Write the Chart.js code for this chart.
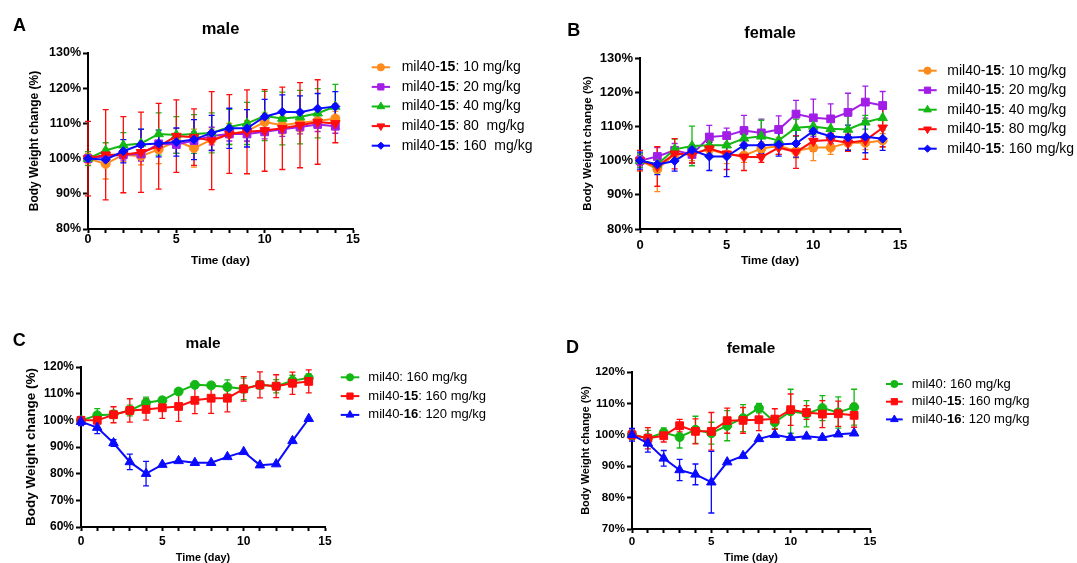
<!DOCTYPE html>
<html>
<head>
<meta charset="utf-8">
<script src="https://cdn.jsdelivr.net/npm/chart.js@4.4.0/dist/chart.umd.min.js"></script>
<style>
  body { margin: 0; background: #fff; width: 1077px; height: 563px; overflow: hidden; position: relative; }
  canvas { position: absolute; }
</style>
</head>
<body>
<canvas id="chartA" width="560" height="280" style="left:0;top:0"></canvas>
<canvas id="chartB" width="517" height="280" style="left:560px;top:0"></canvas>
<canvas id="chartC" width="560" height="280" style="left:0;top:300px"></canvas>
<canvas id="chartD" width="517" height="280" style="left:560px;top:300px"></canvas>
<script>
// days of the study (x axis)
const days = [0, 1, 2, 3, 4, 5, 6, 7, 8, 9, 10, 11, 12, 13, 14];

// A - male, mil40-15 dose range
const labelsA = ['mil40-15: 10 mg/kg', 'mil40-15: 20 mg/kg', 'mil40-15: 40 mg/kg', 'mil40-15: 80  mg/kg', 'mil40-15: 160  mg/kg'];
const a10 = [100, 98.5, 101.1, 100.7, 102.6, 105, 103, 105.4, 107, 107.8, 110.4, 109.5, 110.2, 110.7, 111.4];
const a10Err = [1.5, 4.3, 2, 2.5, 4, 3.5, 5.4, 3, 3, 3, 2.5, 2.5, 2.5, 2, 2];
const a20 = [100, 100.7, 101.1, 101.3, 104.2, 104, 105.1, 106.4, 107, 107, 107.6, 108.3, 109, 109.7, 109.2];
const a20Err = [1, 1.5, 1.5, 2, 2.5, 2.5, 2.5, 2.5, 2, 2, 2, 2, 2, 2, 2];
const a40 = [100, 102.3, 103.8, 104.3, 107, 106.7, 107, 107.3, 109, 110, 112.1, 111.4, 111.8, 112.9, 114.8];
const a40Err = [2, 2.2, 3.6, 4, 6, 5.2, 5.5, 5.7, 5, 6, 7, 7.5, 7.6, 7, 6.3];
const a80 = [100, 101.1, 101.1, 101.8, 103.5, 106.4, 106.1, 105.1, 107, 107.6, 108, 108.6, 109.5, 110.4, 110];
const a80Err = [10.6, 12.8, 10.8, 11.4, 12.2, 10.3, 8, 13.9, 11.2, 11.9, 11.6, 11.7, 12.1, 12, 5.5];
const a160 = [100, 99.7, 102.1, 104, 104.3, 104.7, 105.4, 107.3, 108.6, 108.6, 111.9, 113.3, 113.2, 114.2, 114.8];
const a160Err = [1, 1, 3.3, 4.4, 3.8, 4, 5.7, 5, 5.7, 5.3, 4.9, 4.8, 4.6, 4.3, 4.2];

// B - female, mil40-15 dose range
const labelsB = ['mil40-15: 10 mg/kg', 'mil40-15: 20 mg/kg', 'mil40-15: 40 mg/kg', 'mil40-15: 80 mg/kg', 'mil40-15: 160 mg/kg'];
const b10 = [100, 97.5, 101.8, 102, 103.3, 101.8, 101.5, 103.5, 104.3, 102.8, 103.8, 103.8, 105.2, 105.2, 105.9];
const b10Err = [2, 6.6, 2, 2, 2, 2.7, 2, 2, 2.5, 2, 3.8, 2, 2, 2, 2];
const b20 = [100, 101.2, 103, 101.8, 106.9, 107.3, 108.8, 108.1, 109.1, 113.6, 112.5, 112.2, 114.1, 117.1, 116.1];
const b20Err = [1.5, 2.6, 2, 2.5, 3.4, 2.2, 4.4, 4, 4, 4, 5.5, 4.4, 5.6, 4.7, 4.1];
const b40 = [100, 98.9, 103.3, 104.3, 104.5, 104.5, 106.5, 107.1, 105.9, 109.6, 110, 109.3, 109.1, 111.2, 112.5];
const b40Err = [2, 2.5, 3, 5.8, 2.5, 2.5, 3, 4.7, 2.5, 2.5, 2.5, 2.5, 4, 2, 3.5];
const b80 = [100, 98.3, 102, 101.8, 103.5, 102, 101.1, 101, 103.8, 102.5, 105.7, 106, 105.2, 105.9, 109.6];
const b80Err = [3, 5.8, 4.4, 2.5, 2, 4.6, 4, 1.5, 2, 4.8, 3, 2, 2.5, 5.5, 5.5];
const b160 = [100, 98.9, 99.9, 103.1, 101.2, 101.2, 104.5, 104.5, 104.7, 105, 108.6, 107.1, 106.7, 107, 106.4];
const b160Err = [2.5, 3, 3, 1.5, 4.1, 5.9, 3, 2.5, 3.4, 4, 4.4, 2.1, 3.7, 4.7, 3.4];

// C - male, 3 compounds
const labelsC = ['mil40: 160 mg/kg', 'mil40-15: 160 mg/kg', 'mil40-16: 120 mg/kg'];
const c40 = [100, 101.9, 102.2, 103.7, 106.6, 107.5, 110.8, 113.3, 113.1, 112.5, 111.8, 113.3, 112.8, 114.9, 115.9];
const c40Err = [1, 2.5, 1.5, 2, 2.1, 1, 1, 1.2, 1, 2.7, 4, 1.5, 2.5, 2, 1.5];
const c15 = [100, 100, 102.1, 103.7, 104.1, 104.7, 105.2, 107.5, 108.3, 108.3, 111.8, 113.3, 112.8, 113.9, 114.6];
const c15Err = [1, 1, 3, 4.4, 4, 4, 5.6, 5, 5.7, 5.1, 4.6, 4.9, 4.3, 4.2, 4.3];
const c16 = [99.5, 97.3, 91.5, 84.4, 80, 83.4, 84.8, 84.1, 84.1, 86.3, 88.2, 83.2, 83.6, 92.3, 100.6];
const c16Err = [1.5, 2.3, 1.3, 2.9, 4.6, 0, 0, 0, 0, 0, 0, 0, 0, 0, 0];

// D - female, 3 compounds
const labelsD = ['mil40: 160 mg/kg', 'mil40-15: 160 mg/kg', 'mil40-16: 120 mg/kg'];
const d40 = [100, 98.9, 100.7, 99.3, 101.6, 100.5, 102.9, 105.3, 108.5, 104, 107.5, 106.7, 108.5, 107.1, 108.8];
const d40Err = [1.5, 2.5, 1.5, 3.5, 4.3, 3.5, 4.8, 4.3, 1.5, 2, 7, 4.2, 4, 5, 5.7];
const d15 = [100, 98.9, 99.7, 102.9, 101.1, 101.1, 104.5, 104.6, 104.8, 105, 108, 107.1, 106.6, 106.7, 106.2];
const d15Err = [1.5, 3.4, 2, 2, 4, 6, 4, 4.1, 3.5, 3.3, 5, 2.2, 4.3, 4, 3.8];
const d16 = [100, 97.3, 92.5, 88.8, 87.4, 84.9, 91.3, 93.3, 98.7, 100, 99.1, 99.5, 99.1, 100.2, 100.5];
const d16Err = [2, 2.8, 2.5, 3.4, 3.3, 9.8, 0, 0, 0, 0, 0, 0, 0, 0, 0];

const FONT = "'Liberation Sans', Arial, Helvetica, sans-serif";
const ORANGE = '#ff8a1c', PURPLE = '#a21ee6', GREEN = '#14b814', RED = '#ff0c0c', BLUE = '#0a0aff';

// vertical SEM bars, drawn under the lines and markers
const errorBars = {
  id: 'errorBars',
  beforeDatasetsDraw(chart) {
    const ctx = chart.ctx;
    const xs = chart.scales.x, ys = chart.scales.y;
    ctx.save();
    chart.data.datasets.forEach(ds => {
      ctx.strokeStyle = ds.borderColor;
      ctx.lineWidth = 1.3;
      ds.data.forEach((pt, i) => {
        const e = ds.errors[i];
        if (!e) return;
        const x = xs.getPixelForValue(pt.x);
        const y1 = ys.getPixelForValue(pt.y + e);
        const y2 = ys.getPixelForValue(pt.y - e);
        ctx.beginPath();
        ctx.moveTo(x, y1); ctx.lineTo(x, y2);
        ctx.moveTo(x - 3, y1); ctx.lineTo(x + 3, y1);
        ctx.moveTo(x - 3, y2); ctx.lineTo(x + 3, y2);
        ctx.stroke();
      });
    });
    ctx.restore();
  }
};

// panel letter, title and the legend (compound number in bold)
const panelText = {
  id: 'panelText',
  afterDraw(chart, args, o) {
    const ctx = chart.ctx, area = chart.chartArea;
    ctx.save();
    ctx.fillStyle = '#000';
    ctx.textBaseline = 'alphabetic';
    ctx.textAlign = 'left';
    ctx.font = `bold 18px ${FONT}`;
    ctx.fillText(o.letter, o.letterX, o.letterY);
    ctx.textAlign = 'center';
    ctx.font = `bold ${o.titleSize}px ${FONT}`;
    ctx.fillText(o.title, (area.left + area.right) / 2, o.titleY);

    ctx.textAlign = 'left';
    ctx.textBaseline = 'middle';
    chart.data.datasets.forEach((ds, i) => {
      const y = o.legY + i * o.legStep;
      ctx.strokeStyle = ds.borderColor;
      ctx.fillStyle = ds.borderColor;
      ctx.lineWidth = 2;
      ctx.beginPath();
      ctx.moveTo(o.legX, y); ctx.lineTo(o.legX + o.legLen, y);
      ctx.stroke();
      ctx.lineWidth = 1;
      Chart.helpers.drawPoint(ctx, {
        pointStyle: ds.pointStyle, rotation: ds.pointRotation,
        radius: ds.pointRadius * 0.8, borderWidth: 1
      }, o.legX + o.legLen / 2, y);

      const m = ds.label.match(/^(mil40-)(\d+)(.*)$/);
      const parts = m ? [[m[1], false], [m[2], true], [m[3], false]] : [[ds.label, false]];
      let x = o.textX;
      ctx.fillStyle = '#000';
      parts.forEach(([txt, bold]) => {
        ctx.font = `${bold ? 'bold ' : ''}${o.legSize}px ${FONT}`;
        ctx.fillText(txt, x, y);
        x += ctx.measureText(txt).width;
      });
    });
    ctx.restore();
  }
};

function makePanel(id, p) {
  const datasets = p.series.map((s, i) => ({
    label: s.label,
    data: days.map((d, k) => ({ x: d, y: s.values[k] })),
    errors: s.errors,
    borderColor: s.color,
    backgroundColor: s.color,
    pointBackgroundColor: s.color,
    pointBorderColor: s.color,
    pointStyle: s.marker,
    pointRotation: s.rotation || 0,
    pointRadius: s.radius,
    pointBorderWidth: 1,
    borderWidth: 2,
    tension: 0,
    clip: false,
    order: -i
  }));

  const tickFont = { family: FONT, size: p.tickSize, weight: 'bold', lineHeight: 1 };

  new Chart(document.getElementById(id), {
    type: 'line',
    data: { datasets },
    options: {
      responsive: false,
      animation: false,
      devicePixelRatio: 1,
      layout: {
        padding: { left: 0, top: p.area.top, right: p.w - p.area.right, bottom: p.h - p.area.bottom - 45 }
      },
      plugins: {
        legend: { display: false },
        tooltip: { enabled: false },
        panelText: p.text
      },
      scales: {
        x: {
          type: 'linear', min: 0, max: 15,
          afterFit: s => { s.height = 45; s.paddingLeft = 0; s.paddingRight = 0; },
          border: { display: true, color: '#000', width: 2 },
          grid: { drawOnChartArea: false, drawTicks: true, tickLength: 4, tickColor: '#000', tickWidth: 2 },
          ticks: {
            stepSize: 1, autoSkip: false, maxRotation: 0, padding: p.xPad, color: '#000', font: tickFont,
            callback: v => (v % 5 === 0 ? String(v) : '')
          },
          title: {
            display: true, text: 'Time (day)', color: '#000',
            font: { family: FONT, size: p.xTitleSize, weight: 'bold', lineHeight: 1.2 },
            padding: { top: 0, bottom: p.xTitlePad }
          }
        },
        y: {
          min: p.yMin, max: p.yMax,
          afterFit: s => { s.width = p.area.left; s.paddingTop = 0; s.paddingBottom = 0; },
          border: { display: true, color: '#000', width: 2 },
          grid: { drawOnChartArea: false, drawTicks: true, tickLength: 5, tickColor: '#000', tickWidth: 2 },
          ticks: { stepSize: 10, padding: 2, color: '#000', font: tickFont, callback: v => v + '%' },
          title: {
            display: true, text: 'Body Weight change (%)', color: '#000',
            font: { family: FONT, size: p.yTitleSize, weight: 'bold', lineHeight: 1.2 },
            padding: { top: p.yTitlePad, bottom: 0 }
          }
        }
      }
    },
    plugins: [errorBars, panelText]
  });
}

makePanel('chartA', {
  w: 560, h: 280, area: { left: 88, right: 353, top: 53, bottom: 229 },
  yMin: 80, yMax: 130, tickSize: 12.5, xPad: 0, xTitleSize: 11.8, xTitlePad: 6.2, yTitleSize: 12, yTitlePad: 27.8,
  text: { letter: 'A', letterX: 13, letterY: 30.7, title: 'male', titleSize: 16.5, titleY: 34.3,
          legX: 371.7, legLen: 18.3, textX: 401.7, legY: 67.3, legStep: 19.6, legSize: 14 },
  series: [
    { label: labelsA[0], values: a10, errors: a10Err, color: ORANGE, marker: 'circle', radius: 4.5 },
    { label: labelsA[1], values: a20, errors: a20Err, color: PURPLE, marker: 'rect', radius: 5.5 },
    { label: labelsA[2], values: a40, errors: a40Err, color: GREEN, marker: 'triangle', radius: 5.5 },
    { label: labelsA[3], values: a80, errors: a80Err, color: RED, marker: 'triangle', rotation: 180, radius: 5.5 },
    { label: labelsA[4], values: a160, errors: a160Err, color: BLUE, marker: 'rectRot', radius: 4.5 }
  ]
});

makePanel('chartB', {
  w: 517, h: 280, area: { left: 80, right: 340, top: 58, bottom: 229 },
  yMin: 80, yMax: 130, tickSize: 13, xPad: 6, xTitleSize: 11.7, xTitlePad: 6.2, yTitleSize: 11.5, yTitlePad: 21.4,
  text: { letter: 'B', letterX: 7.3, letterY: 36, title: 'female', titleSize: 16.3, titleY: 37.7,
          legX: 358.3, legLen: 18.4, textX: 387.3, legY: 70.7, legStep: 19.5, legSize: 14 },
  series: [
    { label: labelsB[0], values: b10, errors: b10Err, color: ORANGE, marker: 'circle', radius: 4.5 },
    { label: labelsB[1], values: b20, errors: b20Err, color: PURPLE, marker: 'rect', radius: 5.5 },
    { label: labelsB[2], values: b40, errors: b40Err, color: GREEN, marker: 'triangle', radius: 5.5 },
    { label: labelsB[3], values: b80, errors: b80Err, color: RED, marker: 'triangle', rotation: 180, radius: 5.5 },
    { label: labelsB[4], values: b160, errors: b160Err, color: BLUE, marker: 'rectRot', radius: 4.5 }
  ]
});

makePanel('chartC', {
  w: 560, h: 280, area: { left: 81, right: 325, top: 67, bottom: 227 },
  yMin: 60, yMax: 120, tickSize: 12, xPad: 4.7, xTitleSize: 10.9, xTitlePad: 7.8, yTitleSize: 13.5, yTitlePad: 23.6,
  text: { letter: 'C', letterX: 12.7, letterY: 46, title: 'male', titleSize: 15.4, titleY: 47.7,
          legX: 340.7, legLen: 18.6, textX: 368.3, legY: 77.3, legStep: 18.8, legSize: 13 },
  series: [
    { label: labelsC[0], values: c40, errors: c40Err, color: GREEN, marker: 'circle', radius: 4.5 },
    { label: labelsC[1], values: c15, errors: c15Err, color: RED, marker: 'rect', radius: 5.5 },
    { label: labelsC[2], values: c16, errors: c16Err, color: BLUE, marker: 'triangle', radius: 5.5 }
  ]
});

makePanel('chartD', {
  w: 517, h: 280, area: { left: 72, right: 310, top: 72, bottom: 229 },
  yMin: 70, yMax: 120, tickSize: 11.6, xPad: 2.7, xTitleSize: 10.8, xTitlePad: 9.2, yTitleSize: 11, yTitlePad: 19.4,
  text: { letter: 'D', letterX: 6, letterY: 52.7, title: 'female', titleSize: 15.3, titleY: 53.3,
          legX: 326, legLen: 16.7, textX: 351.7, legY: 84, legStep: 17.7, legSize: 13 },
  series: [
    { label: labelsD[0], values: d40, errors: d40Err, color: GREEN, marker: 'circle', radius: 4.5 },
    { label: labelsD[1], values: d15, errors: d15Err, color: RED, marker: 'rect', radius: 5.5 },
    { label: labelsD[2], values: d16, errors: d16Err, color: BLUE, marker: 'triangle', radius: 5.5 }
  ]
});
</script>
</body>
</html>
